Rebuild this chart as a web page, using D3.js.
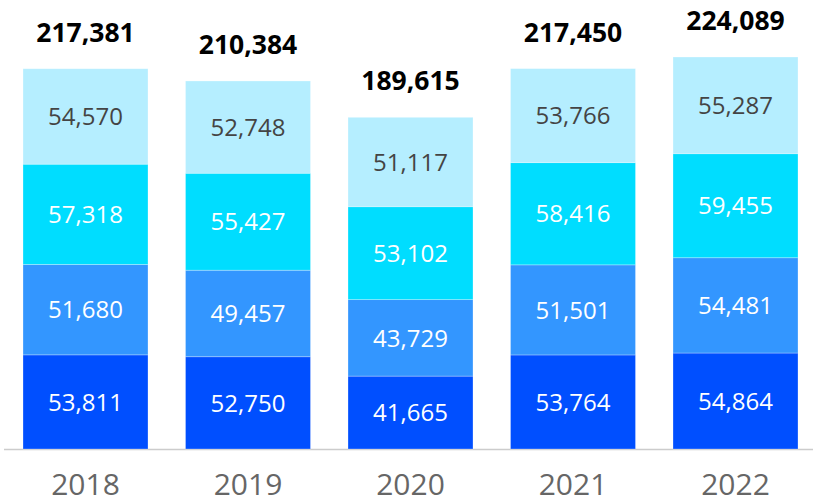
<!DOCTYPE html>
<html>
<head>
<meta charset="utf-8">
<script src="https://cdn.jsdelivr.net/npm/d3@7"></script>
<style>
  body { margin: 0; background: #fff; }
  svg { display: block; font-family: "Open Sans", "Noto Sans", sans-serif; }
</style>
</head>
<body>
<div id="chart"></div>
<script>
// data, bottom segment first
const years = ['2018', '2019', '2020', '2021', '2022'];
const seg1 = [53811, 52750, 41665, 53764, 54864];
const seg2 = [51680, 49457, 43729, 51501, 54481];
const seg3 = [57318, 55427, 53102, 58416, 59455];
const seg4 = [54570, 52748, 51117, 53766, 55287];
const totals = [217381, 210384, 189615, 217450, 224089];

const colors = ['#004fff', '#3396ff', '#00ddff', '#b5eeff'];
const textColors = ['#ffffff', '#ffffff', '#ffffff', '#444444'];

const W = 813, H = 498;
const baseY = 449;

const svg = d3.select('#chart').append('svg')
    .attr('width', W).attr('height', H);

const pad = 37.5 / 162.5;
const x = d3.scaleBand()
    .domain(years)
    .range([4.25, 816.75])
    .paddingInner(pad)
    .paddingOuter(pad / 2);

const y = d3.scaleLinear()
    .domain([0, 224089])
    .range([baseY, 57]);

const rows = years.map((yr, i) => ({ year: yr, s0: seg1[i], s1: seg2[i], s2: seg3[i], s3: seg4[i] }));
const stack = d3.stack().keys(['s0', 's1', 's2', 's3'])(rows);

// axis line
svg.append('line')
    .attr('x1', 4).attr('x2', W)
    .attr('y1', baseY + 0.5).attr('y2', baseY + 0.5)
    .attr('stroke', '#cccccc').attr('stroke-width', 1.5);

const layers = svg.selectAll('g.layer').data(stack).join('g')
    .attr('class', 'layer');

layers.selectAll('rect').data(d => d).join('rect')
    .attr('x', d => x(d.data.year))
    .attr('width', x.bandwidth())
    .attr('y', d => y(d[1]))
    .attr('height', d => y(d[0]) - y(d[1]))
    .attr('fill', function() { return colors[d3.select(this.parentNode).datum().index]; })
    .attr('stroke', 'rgba(255,255,255,0.35)')
    .attr('stroke-width', 0.8);

layers.selectAll('text').data(d => d).join('text')
    .attr('x', d => x(d.data.year) + x.bandwidth() / 2)
    .attr('y', d => (y(d[0]) + y(d[1])) / 2)
    .attr('dy', '0.36em')
    .attr('text-anchor', 'middle')
    .attr('font-size', 24)
    .attr('fill', function() { return textColors[d3.select(this.parentNode).datum().index]; })
    .text(d => d3.format(',')(d[1] - d[0]));

// totals
svg.selectAll('text.total').data(years).join('text')
    .attr('class', 'total')
    .attr('x', d => x(d) + x.bandwidth() / 2)
    .attr('y', (d, i) => y(totals[i]) - 27)
    .attr('text-anchor', 'middle')
    .attr('font-size', 26.5)
    .attr('font-weight', 'bold')
    .attr('fill', '#000')
    .text((d, i) => d3.format(',')(totals[i]));

// year labels
svg.selectAll('text.year').data(years).join('text')
    .attr('class', 'year')
    .attr('x', d => x(d) + x.bandwidth() / 2)
    .attr('y', 495)
    .attr('text-anchor', 'middle')
    .attr('font-size', 30)
    .attr('fill', '#666666')
    .text(d => d);
</script>
</body>
</html>
